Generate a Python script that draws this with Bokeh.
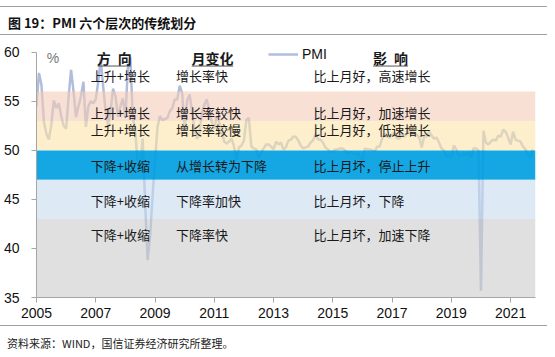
from bokeh.plotting import figure
from bokeh.models import Range1d, FixedTicker, Div, Legend, LegendItem
from bokeh.layouts import column
from bokeh.core.properties import value
from bokeh.embed import file_html
from bokeh.resources import INLINE

# ---------------- data ----------------
# monthly PMI (%), first point plotted at 2005.0, one point per month
pmi = [
    # 2005
    54.5, 57.9, 56.7, 52.9, 51.7, 51.1, 52.6, 55.1, 54.3, 54.8, 53.5,
    # 2006
    52.5, 52.2, 55.5, 58.2, 56.0, 53.4, 54.5, 55.5, 57.0, 52.4, 54.5, 55.0,
    # 2007
    54.8, 55.2, 57.0, 59.3, 56.5, 54.0, 52.5, 54.0, 56.3, 55.5, 53.4, 54.5,
    # 2008
    55.3, 53.4, 58.4, 59.5, 53.3, 52.0, 48.4, 48.4, 51.2, 44.6, 38.8, 41.2,
    # 2009
    45.3, 49.0, 52.4, 53.5, 53.1, 53.2, 53.3, 54.0, 54.3, 55.2, 55.2, 56.6,
    # 2010
    55.8, 52.0, 55.1, 55.7, 53.9, 52.1, 51.2, 51.7, 53.8, 54.7, 55.2, 53.9,
    # 2011
    52.9, 52.2, 53.4, 52.9, 52.0, 50.9, 50.7, 50.9, 51.2, 50.4, 49.0, 50.3,
    # 2012
    50.5, 51.0, 53.1, 53.3, 50.4, 50.2, 50.1, 49.2, 49.8, 50.2, 50.6, 50.6,
    # 2013
    50.4, 50.1, 50.9, 50.6, 50.8, 50.1, 50.3, 51.0, 51.1, 51.4, 51.4, 51.0,
    # 2014
    50.5, 50.2, 50.3, 50.4, 50.8, 51.0, 51.7, 51.1, 51.1, 50.8, 50.3, 50.1,
    # 2015
    49.8, 49.9, 50.1, 50.1, 50.2, 50.2, 50.0, 49.7, 49.8, 49.8, 49.6, 49.7,
    # 2016
    49.4, 49.0, 50.2, 50.1, 50.1, 50.0, 49.9, 50.4, 50.4, 51.2, 51.7, 51.4,
    # 2017
    51.3, 51.6, 51.8, 51.2, 51.2, 51.7, 51.4, 51.7, 52.4, 51.6, 51.8, 51.6,
    # 2018
    51.3, 50.3, 51.5, 51.4, 51.9, 51.5, 51.2, 51.3, 50.8, 50.2, 50.0, 49.4,
    # 2019
    49.5, 49.2, 50.5, 50.1, 49.4, 49.4, 49.7, 49.5, 49.8, 49.3, 50.2, 50.2,
    # 2020
    50.0, 35.7, 52.0, 50.8, 50.6, 50.9, 51.1, 51.0, 51.5, 51.4, 52.1, 51.9,
    # 2021
    51.3, 50.6, 51.9, 51.1, 51.0, 50.9, 50.4, 50.1, 49.6, 49.2, 50.1,
]
start_year = 2005

# six PMI levels (band bounds, %)
band_bottom = [53, 50, 47, 43, 35]
band_top = [56, 53, 50, 47, 43]
band_colors = ["#f3cbb7", "#fce3aa", "#00a0e1", "#c8daf0", "#cbcbcb"]
band_alpha = [0.6, 0.6, 0.92, 0.6, 0.6]

headers = ["方\u2002向", "月变化", "影\u2002响"]
directions = ["上升+增长", "上升+增长", "上升+增长", "下降+收缩", "下降+收缩", "下降+收缩"]
changes = ["增长率快", "增长率较快", "增长率较慢", "从增长转为下降", "下降率加快", "下降率快"]
impacts = ["比上月好，高速增长", "比上月好，加速增长", "比上月好，低速增长",
           "比上月坏，停止上升", "比上月坏，下降", "比上月坏，加速下降"]

x_ticks = [2005, 2007, 2009, 2011, 2013, 2015, 2017, 2019, 2021]
y_ticks = [35, 40, 45, 50, 55, 60]

# ---------------- layout constants ----------------
X0, X1 = 2005, 2021.84
Y0, Y1 = 35, 61
row_y = [57.6, 53.9, 52.1, 48.5, 44.9, 41.4]
col_x = [2006.83, 2009.71, 2014.35]
head_x = [2007.62, 2010.94, 2016.95]
head_w = [1.12, 1.40, 1.18]
head_y = 59.4

CJK = "Noto Sans CJK SC"
LAT = "Liberation Sans"

x = [start_year + i / 12 for i in range(len(pmi))]

p = figure(width=555, height=289, output_backend="svg", toolbar_location=None,
           x_range=Range1d(X0, X1), y_range=Range1d(Y0, Y1),
           min_border_left=35, min_border_right=20, min_border_top=6,
           min_border_bottom=28, background_fill_color="white",
           border_fill_color="white", outline_line_color=None)
p.xgrid.visible = False
p.ygrid.visible = False

line_r = p.line(x, pmi, line_color="#b0bedb", line_width=2.5)

p.quad(left=[X0] * len(band_bottom), right=[X1] * len(band_bottom),
       bottom=band_bottom, top=band_top, fill_color=band_colors,
       fill_alpha=band_alpha, line_color=None)

# column headers
p.text(x=head_x, y=[head_y] * 3, text=headers, text_font=value(CJK),
       text_font_size="14px", text_font_style="bold", text_color="#1a1a1a",
       text_align="center", text_baseline="middle")
p.segment(x0=[hx - w / 2 for hx, w in zip(head_x, head_w)], y0=[58.6] * 3,
          x1=[hx + w / 2 for hx, w in zip(head_x, head_w)], y1=[58.6] * 3,
          line_color="#555555", line_width=1)

for cx, texts in zip(col_x, [directions, changes, impacts]):
    p.text(x=[cx] * len(texts), y=row_y, text=texts, text_font=value(CJK),
           text_font_size="13px", text_color="#1a1a1a",
           text_align="left", text_baseline="middle")

p.text(x=[2005.35], y=[59.45], text=["%"], text_font=value(LAT),
       text_font_size="14px", text_color="#777777", text_align="left",
       text_baseline="middle")

legend = Legend(items=[LegendItem(label="PMI", renderers=[line_r])],
                location=(232, 235), orientation="horizontal",
                padding=0, margin=0, spacing=0, glyph_width=30, glyph_height=16,
                label_standoff=4, label_height=16,
                label_text_font=LAT, label_text_baseline="middle",
                label_text_font_size="14px", label_text_color="#111111",
                border_line_color=None, background_fill_alpha=0)
p.add_layout(legend, "center")

for ax in (p.xaxis[0], p.yaxis[0]):
    ax.axis_line_color = "#a6a6a6"
    ax.axis_line_width = 1
    ax.major_tick_line_color = "#a6a6a6"
    ax.major_tick_out = 5
    ax.major_tick_in = 0
    ax.minor_tick_line_color = None
    ax.major_label_text_font = LAT
    ax.major_label_text_font_size = "14px"
    ax.major_label_text_color = "#111111"

p.yaxis.bounds = (35, 60)
p.xaxis.ticker = FixedTicker(ticks=x_ticks)
p.yaxis.ticker = FixedTicker(ticks=y_ticks)
p.xaxis.major_label_standoff = 5
p.yaxis.major_label_standoff = 12

title = Div(text="图 19：PMI 六个层次的传统划分", width=547, height=29,
            margin=(6, 0, 1, 0),
            styles={"border-top": "1px solid #a0a0a0",
                    "border-bottom": "1px solid #a0a0a0",
                    "box-sizing": "border-box", "padding-left": "8px",
                    "padding-top": "5px",
                    "line-height": "22px", "font-size": "13px",
                    "font-weight": "bold", "font-family": CJK,
                    "color": "#111111"})

source = Div(text="资料来源：WIND，国信证券经济研究所整理。", width=547, height=32,
             margin=(0, 0, 0, 0),
             styles={"border-top": "1px solid #a0a0a0",
                     "box-sizing": "border-box", "padding-left": "7px",
                     "padding-top": "9px", "line-height": "16px",
                     "font-size": "11px", "font-family": CJK,
                     "color": "#222222"})

layout = column(title, p, source, spacing=0)
open("out.html", "w").write(file_html(layout, INLINE))
